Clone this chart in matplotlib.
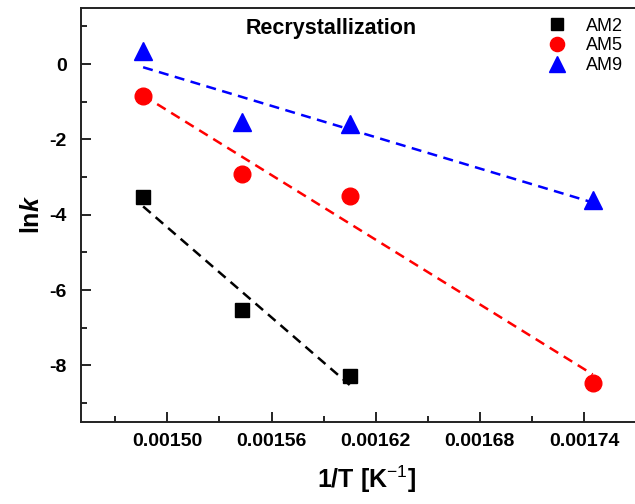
import numpy as np
import matplotlib
matplotlib.use('Agg')
import matplotlib.pyplot as plt
from matplotlib.lines import Line2D

plt.rcParams['font.family'] = ['Liberation Sans', 'DejaVu Sans']
plt.rcParams['mathtext.fontset'] = 'custom'
plt.rcParams['mathtext.rm'] = 'Liberation Sans'
plt.rcParams['mathtext.bf'] = 'Liberation Sans:bold'
plt.rcParams['mathtext.it'] = 'Liberation Sans:italic'
plt.rcParams['mathtext.bfit'] = 'Liberation Sans:bold:italic'

# 1/T values (K^-1) and ln k
inv_t_am2 = [0.001486, 0.001543, 0.001605]
lnk_am2 = [-3.53, -6.53, -8.29]

inv_t_am5 = [0.001486, 0.001543, 0.001605, 0.001745]
lnk_am5 = [-0.86, -2.93, -3.51, -8.47]

inv_t_am9 = [0.001486, 0.001543, 0.001605, 0.001745]
lnk_am9 = [0.35, -1.54, -1.58, -3.60]

series = [
    ('AM2', inv_t_am2, lnk_am2, 'black', 's', 10.5),
    ('AM5', inv_t_am5, lnk_am5, 'red', 'o', 12),
    ('AM9', inv_t_am9, lnk_am9, 'blue', '^', 13),
]

xticks = [0.00150, 0.00156, 0.00162, 0.00168, 0.00174]
xticklabels = ['0.00150', '0.00156', '0.00162', '0.00168', '0.00174']
yticks = [0, -2, -4, -6, -8]

fig = plt.figure(figsize=(6.35, 5.04), dpi=100)
ax = fig.add_axes([0.127, 0.163, 0.902, 0.822])

handles = []
for name, x, y, color, marker, ms in series:
    x = np.array(x)
    y = np.array(y)
    slope, icpt = np.polyfit(x, y, 1)
    xf = np.array([x.min(), x.max()])
    ax.plot(xf, slope * xf + icpt, color=color, lw=1.8, dashes=(4, 2.6), zorder=2)
    ax.plot(x, y, linestyle='none', marker=marker, color=color, ms=ms, zorder=3)
    handles.append(Line2D([], [], linestyle='none', marker=marker, color=color,
                          ms=ms * 0.85, label=name))

ax.set_xlim(0.00145, 0.00178)
ax.set_ylim(-9.5, 1.5)
ax.set_xticks(xticks)
ax.set_xticklabels(xticklabels)
ax.set_xticks(np.arange(0.00147, 0.00178, 0.00006), minor=True)
ax.set_yticks(yticks)
ax.set_yticklabels([str(v) for v in yticks])
ax.set_yticks(np.arange(-9, 1.5, 2), minor=True)

ax.tick_params(which='both', direction='in', width=1.2)
ax.tick_params(which='major', length=7, labelsize=14)
ax.tick_params(axis='x', which='major', pad=8)
ax.tick_params(axis='y', which='major', pad=10)
ax.tick_params(which='minor', length=4)
for lab in ax.get_xticklabels() + ax.get_yticklabels():
    lab.set_fontweight('bold')
for sp in ax.spines.values():
    sp.set_linewidth(1.4)
    sp.set_color('#222222')

ax.set_xlabel('1/T [K$^{-1}$]', fontsize=18, fontweight='bold', labelpad=10)
ax.set_ylabel('ln$\\bfit{k}$', fontsize=18, fontweight='bold', labelpad=4)

ax.text(0.437, 0.975, 'Recrystallization', transform=ax.transAxes,
        ha='center', va='top', fontsize=15.5, fontweight='bold')

ax.legend(handles=handles, loc='upper right', bbox_to_anchor=(0.975, 1.015),
          frameon=False, fontsize=13, handletextpad=0.6, labelspacing=0.15,
          handlelength=2.0)

fig.savefig('out.png', dpi=100)
